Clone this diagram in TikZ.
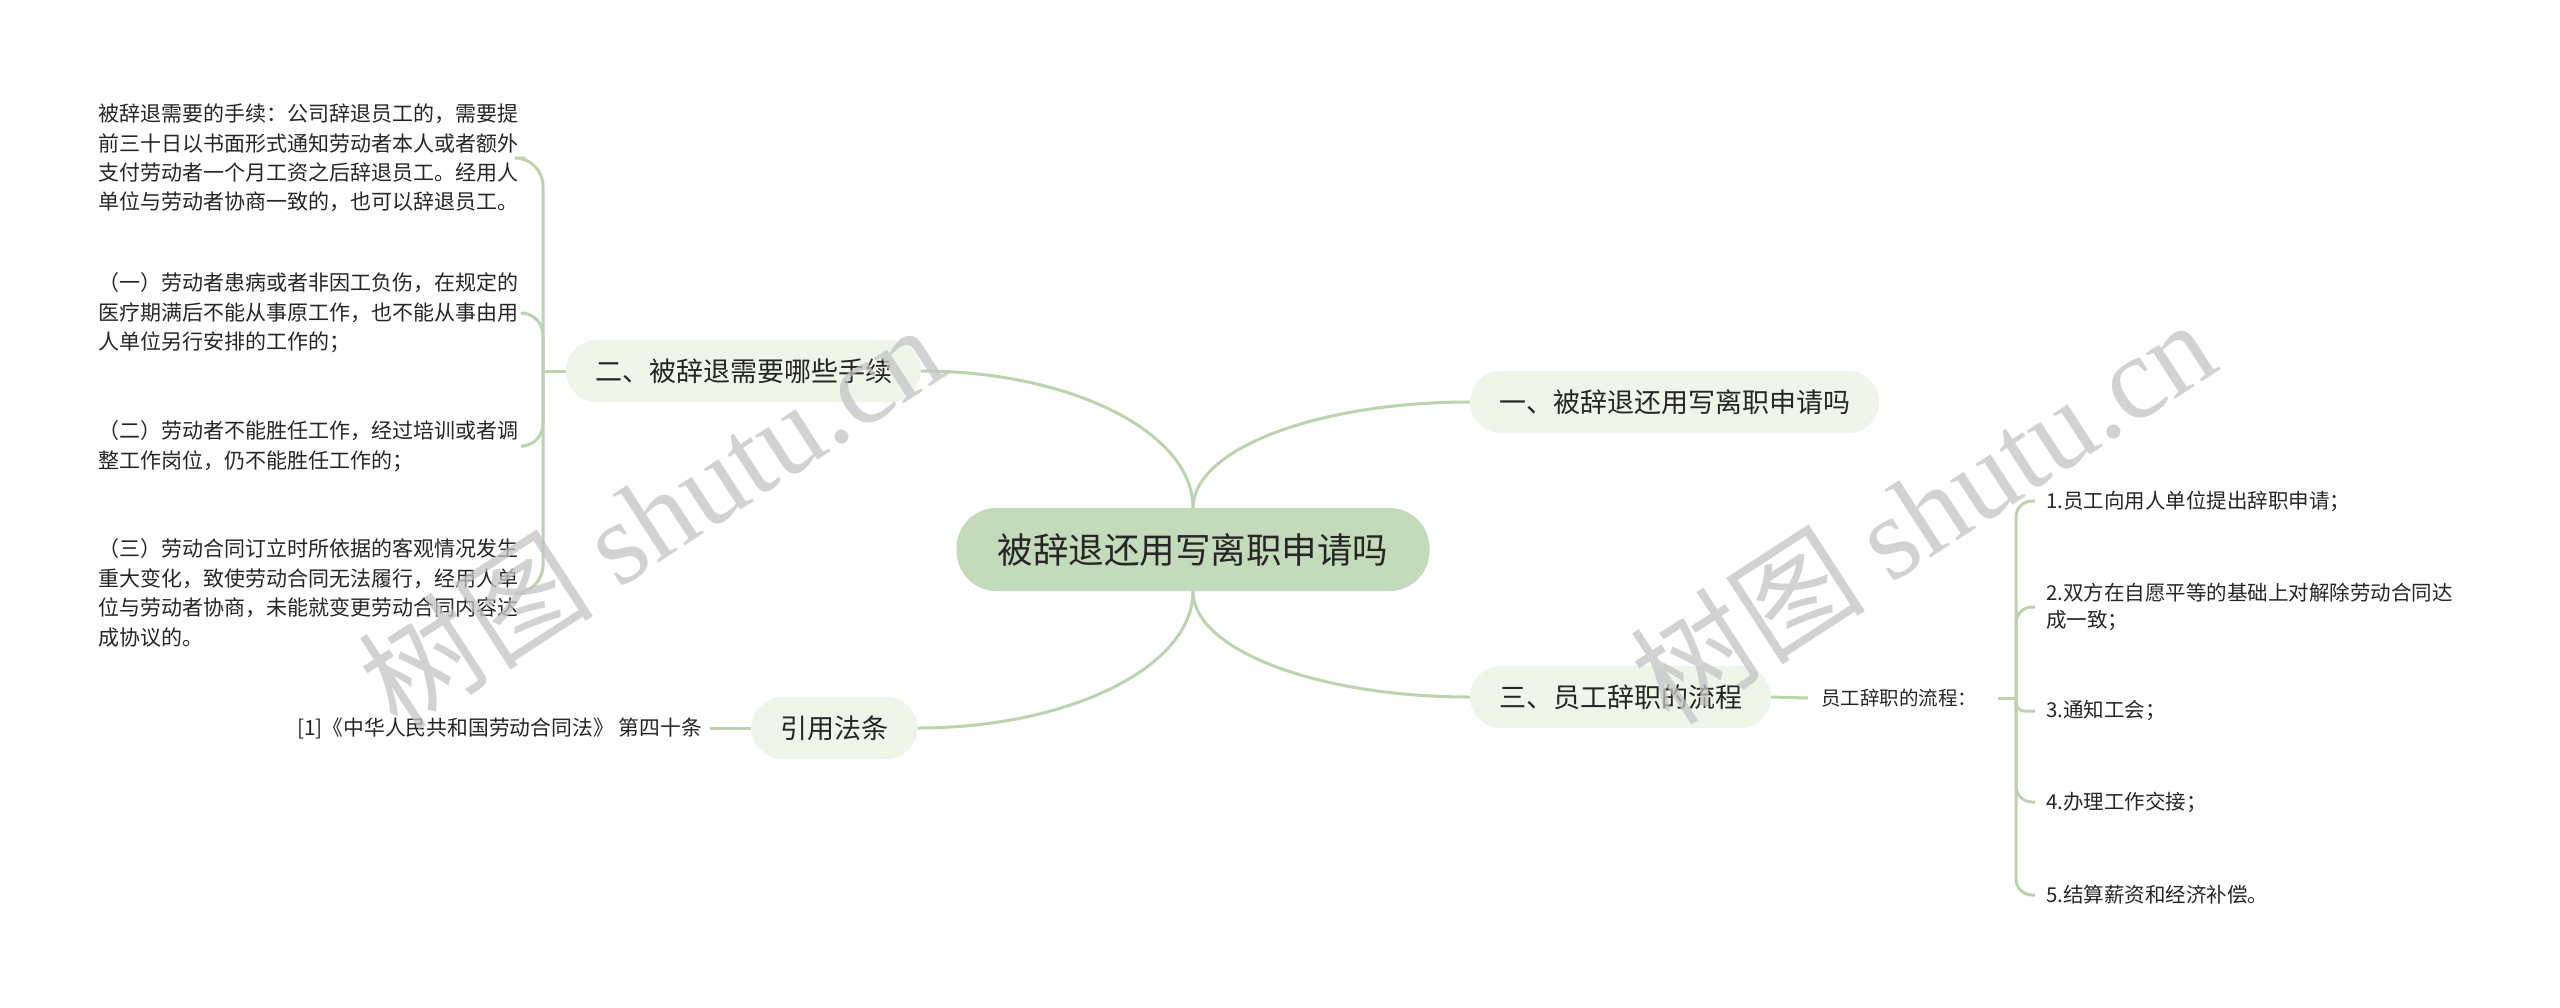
\documentclass[tikz,border=0pt]{standalone}
\usepackage{fontspec}
\setmainfont{Noto Sans CJK SC}
\newfontfamily\wmlat{Liberation Serif}
\definecolor{lnc}{HTML}{BBD4AF}
\definecolor{cfill}{HTML}{C3DBBA}
\definecolor{bfill}{HTML}{EFF5E8}
\definecolor{txt}{HTML}{262626}
\definecolor{wm}{HTML}{C4C4C4}
\begin{document}
\begin{tikzpicture}[x=1pt,y=-1pt,
  conn/.style={draw=lnc,line width=3pt},
  rootbox/.style={fill=cfill,rounded corners=40pt,minimum width=473pt,minimum height=83pt,inner sep=0pt,text=txt,font=\fontsize{35.5}{40}\selectfont},
  topic/.style={fill=bfill,rounded corners=31pt,minimum height=62pt,inner xsep=29pt,inner ysep=0pt,text=txt,font=\fontsize{27}{32}\selectfont},
  leafl/.style={anchor=west,align=left,inner sep=0pt,text=txt,font=\fontsize{21}{29.4}\selectfont},
  leafr/.style={anchor=west,align=left,inner sep=0pt,text=txt,font=\fontsize{20.5}{27.5}\selectfont},
  wmark/.style={text=wm,rotate=33,inner sep=0pt,opacity=0.75,font=\fontsize{118}{120}\selectfont}
]
\useasboundingbox (0,0) rectangle (2560,1007);
\fill[white] (0,0) rectangle (2560,1007);

% central and main topics
\node[rootbox] (root) at (1193,549.5) {被辞退还用写离职申请吗};
\node[topic] (b1) at (1674.5,402) {一、被辞退还用写离职申请吗};
\node[topic] (b2) at (743.5,371) {二、被辞退需要哪些手续};
\node[topic] (b3) at (1620.5,697) {三、员工辞职的流程};
\node[topic] (b4) at (834.5,728) {引用法条};

\draw[conn] (root.north) .. controls +(0,-58.5) and +(-153,0) .. (b1.west);
\draw[conn] (root.north) .. controls +(0,-75.6) and +(149.6,0) .. (b2.east);
\draw[conn] (root.south) .. controls +(0,58.5) and +(-153,0) .. (b3.west);
\draw[conn] (root.south) .. controls +(0,75.6) and +(151.8,0) .. (b4.east);

% left leaves
\node[leafl] (l1) at (98,158) {被辞退需要的手续：公司辞退员工的，需要提\\前三十日以书面形式通知劳动者本人或者额外\\支付劳动者一个月工资之后辞退员工。经用人\\单位与劳动者协商一致的，也可以辞退员工。};
\node[leafl] (l2) at (98,313) {（一）劳动者患病或者非因工负伤，在规定的\\医疗期满后不能从事原工作，也不能从事由用\\人单位另行安排的工作的；};
\node[leafl] (l3) at (98,446) {（二）劳动者不能胜任工作，经过培训或者调\\整工作岗位，仍不能胜任工作的；};
\node[leafl] (l4) at (98,593) {（三）劳动合同订立时所依据的客观情况发生\\重大变化，致使劳动合同无法履行，经用人单\\位与劳动者协商，未能就变更劳动合同内容达\\成协议的。};

\coordinate (s2) at (543,371);
\draw[conn] (b2.west) -- (s2);
\draw[conn,rounded corners=28pt] (s2) -- (s2 |- l1.east) -- ([xshift=7pt]l1.east);
\draw[conn,rounded corners=22pt] (s2) -- (s2 |- l2.east) -- ([xshift=7pt]l2.east);
\draw[conn,rounded corners=22pt] (s2) -- (s2 |- l3.east) -- ([xshift=7pt]l3.east);
\draw[conn,rounded corners=28pt] (s2) -- (s2 |- l4.east) -- ([xshift=7pt]l4.east);

% citation
\node[leafr,anchor=east,font=\fontsize{20.8}{26}\selectfont] (ct) at (702,728) {[1]《中华人民共和国劳动合同法》 第四十条};
\draw[conn] ([xshift=8pt]ct.east) -- (b4.west);

% right side
\node[leafr,font=\fontsize{19.5}{26}\selectfont] (lab) at (1821,698) {员工辞职的流程：};
\draw[conn] (b3.east) -- ([xshift=-13pt]lab.west);
\coordinate (s3) at (2016,698);
\draw[conn] ([xshift=21pt]lab.east) -- (s3);

\node[leafr] (r1) at (2046,501) {1.员工向用人单位提出辞职申请；};
\node[leafr] (r2) at (2046,607) {2.双方在自愿平等的基础上对解除劳动合同达\\成一致；};
\node[leafr] (r3) at (2046,711) {3.通知工会；};
\node[leafr] (r4) at (2046,802) {4.办理工作交接；};
\node[leafr] (r5) at (2046,895) {5.结算薪资和经济补偿。};

\draw[conn,rounded corners=16pt] (s3) -- (s3 |- r1.west) -- ([xshift=-11pt]r1.west);
\draw[conn,rounded corners=16pt] (s3) -- (s3 |- r2.west) -- ([xshift=-11pt]r2.west);
\draw[conn,rounded corners=8pt] (s3) -- (s3 |- r3.west) -- ([xshift=-11pt]r3.west);
\draw[conn,rounded corners=16pt] (s3) -- (s3 |- r4.west) -- ([xshift=-11pt]r4.west);
\draw[conn,rounded corners=16pt] (s3) -- (s3 |- r5.west) -- ([xshift=-11pt]r5.west);

% watermarks
\node[wmark] (wm1) at (650,515) {树图 {\wmlat shutu.cn}};
\node[wmark] (wm2) at (1922,510) {树图 {\wmlat shutu.cn}};
\end{tikzpicture}
\end{document}
